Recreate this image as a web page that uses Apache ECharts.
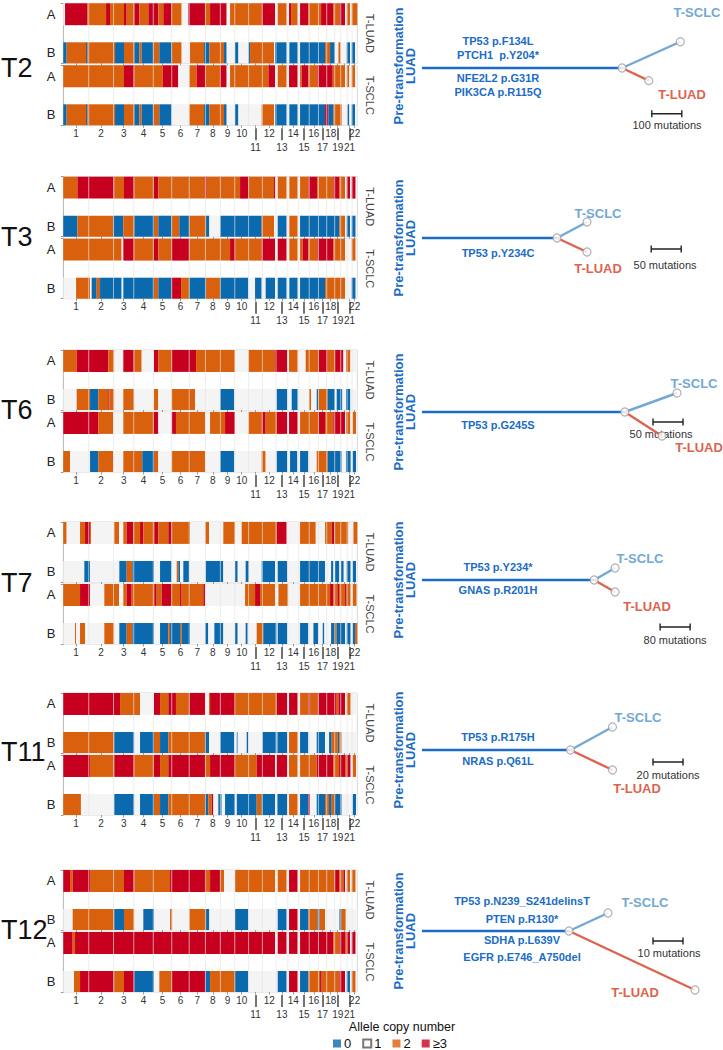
<!DOCTYPE html>
<html><head><meta charset="utf-8">
<script src="https://cdn.jsdelivr.net/npm/echarts@6/dist/echarts.min.js"></script>
<style>html,body{margin:0;padding:0;background:#fff}#c{width:723px;height:1050px}</style>
</head><body><div id="c"></div>
<script>
// ---------------- DATA ----------------
const CHROM_NAMES = ['1','2','3','4','5','6','7','8','9','10','11','12','13','14','15','16','17','18','19','20','21','22'];
const CHROM_LEN_MB = [249.25,243.2,198.0,191.15,180.9,171.1,159.1,146.4,141.2,135.5,135.0,133.85,115.2,107.35,102.5,90.35,81.2,78.1,59.1,63.0,48.1,51.3];
const UPPER_LABEL_CHROMS = ['1','2','3','4','5','6','7','8','9','10','12','14','16','18','20','22'];
const LOWER_LABEL_CHROMS = ['11','13','15','17','19','21'];
const TUMORS = ['T2','T3','T6','T7','T11','T12'];
const FACETS = ['T-LUAD','T-SCLC'];
const ALLELES = ['A','B'];
const CN_STATES = ['0','1','2','≥3'];

// copy-number segments, run-length encoded: [segment end (Mb, genome-wide), state]  state: 0,1,2,3(>=3)
const T2_LUAD_A = [[17,1],[236,3],[419,2],[458,3],[595,2],[621,3],[696,2],[745,3],[834,2],[931,3],[980,2],[1062,3],[1160,2],[1225,1],[1389,3],[1438,2],[1601,3],[1634,1],[1944,2],[2075,3],[2101,1],[2189,2],[2212,1],[2232,3],[2297,2],[2320,1],[2402,3],[2526,2],[2647,3],[2706,2],[2761,3],[2777,1],[2810,2],[2826,1],[2881,2]];
const T2_LUAD_B = [[33,0],[223,2],[236,0],[507,2],[595,0],[696,2],[745,0],[768,2],[883,0],[941,2],[1062,0],[1160,2],[1242,1],[1379,2],[1431,0],[1575,2],[1601,0],[1683,1],[1716,0],[1814,1],[1830,0],[2065,2],[2075,1],[2189,0],[2215,1],[2297,0],[2320,1],[2565,0],[2614,2],[2663,0],[2696,1],[2719,2],[2777,1],[2810,0],[2826,1],[2859,0],[2881,1]];
const T2_SCLC_A = [[595,2],[696,3],[974,2],[1127,3],[1235,1],[1307,2],[1389,3],[1536,2],[1601,3],[1634,1],[2010,2],[2075,3],[2101,1],[2189,2],[2212,1],[2297,3],[2320,1],[2336,2],[2402,3],[2490,2],[2640,3],[2761,2],[2777,1],[2803,2],[2826,1],[2859,2],[2881,1]];
const T2_SCLC_B = [[33,0],[223,2],[236,0],[507,2],[595,0],[696,2],[745,0],[768,2],[883,0],[941,2],[1062,0],[1235,1],[1379,2],[1431,0],[1575,2],[1601,0],[1683,1],[1716,0],[1944,1],[2065,2],[2075,1],[2189,0],[2215,1],[2297,0],[2320,1],[2565,0],[2598,3],[2647,0],[2729,2],[2784,1],[2803,0],[2826,1],[2859,0],[2881,1]];

const T3_LUAD_A = [[138,2],[500,3],[595,2],[696,3],[889,2],[931,3],[1389,2],[1405,3],[1732,2],[1814,3],[2065,2],[2078,3],[2101,1],[2189,2],[2215,1],[2297,2],[2320,1],[2402,2],[2490,3],[2647,2],[2706,3],[2761,2],[2777,1],[2810,3],[2826,1],[2865,3],[2881,1]];
const T3_LUAD_B = [[138,0],[490,2],[588,0],[696,2],[889,0],[931,2],[1062,0],[1137,2],[1235,0],[1399,2],[1431,0],[1536,1],[1944,0],[2065,2],[2101,1],[2189,0],[2215,1],[2297,2],[2320,1],[2706,0],[2761,2],[2777,1],[2810,0],[2826,1],[2865,0],[2881,1]];
const T3_SCLC_A = [[572,2],[588,1],[696,3],[889,2],[931,3],[1062,2],[1235,3],[1634,2],[1683,3],[1944,2],[2075,3],[2101,1],[2189,3],[2215,1],[2297,2],[2320,1],[2346,2],[2402,3],[2490,2],[2647,3],[2761,2],[2826,1],[2865,2],[2881,1]];
const T3_SCLC_B = [[125,1],[262,2],[278,1],[327,0],[360,2],[572,0],[588,1],[889,0],[931,2],[1062,0],[1154,3],[1235,2],[1399,0],[1536,2],[1814,0],[1879,1],[1944,0],[1983,1],[2075,0],[2101,1],[2189,0],[2215,1],[2297,0],[2320,1],[2565,0],[2761,2],[2826,1],[2865,0],[2881,1]];

const T6_LUAD_A = [[131,2],[441,3],[500,2],[588,1],[696,3],[768,2],[889,1],[931,3],[1062,2],[1301,3],[1683,2],[1814,1],[2075,2],[2196,3],[2212,1],[2297,2],[2375,1],[2500,2],[2591,3],[2663,2],[2745,3],[2771,1],[2813,2],[2881,1]];
const T6_LUAD_B = [[131,1],[262,2],[343,0],[441,2],[450,3],[500,2],[588,1],[696,2],[889,1],[931,2],[1062,1],[1291,2],[1536,1],[1676,0],[2091,1],[2196,0],[2238,1],[2297,0],[2408,1],[2428,2],[2483,1],[2500,0],[2591,2],[2663,0],[2679,1],[2735,0],[2771,1],[2813,0],[2881,1]];
const T6_SCLC_A = [[343,3],[490,2],[588,1],[889,2],[931,3],[1062,1],[1104,3],[1389,2],[1438,1],[1585,2],[1683,3],[1814,1],[1944,2],[1983,3],[2091,2],[2196,3],[2212,1],[2297,3],[2320,1],[2500,2],[2565,3],[2646,2],[2761,3],[2771,1],[2813,2],[2836,1],[2869,2],[2881,1]];
const T6_SCLC_B = [[66,2],[262,1],[343,0],[490,2],[588,1],[774,2],[889,0],[931,2],[1062,1],[1389,2],[1536,1],[1676,0],[1944,1],[1983,2],[2091,1],[2196,0],[2222,1],[2294,0],[2320,1],[2402,0],[2483,1],[2591,2],[2728,0],[2771,1],[2817,0],[2836,1],[2869,0],[2881,1]];

const T7_LUAD_A = [[33,2],[164,1],[213,2],[262,3],[272,2],[500,1],[546,2],[588,1],[621,2],[686,3],[752,2],[784,3],[892,2],[931,3],[1029,2],[1062,3],[1242,2],[1389,1],[1428,2],[1568,1],[1683,2],[1748,1],[2091,2],[2189,3],[2320,1],[2474,2],[2565,1],[2630,2],[2656,3],[2794,2],[2843,1],[2881,2]];
const T7_LUAD_B = [[206,1],[262,0],[549,1],[621,0],[676,2],[889,0],[948,1],[1062,0],[1111,1],[1127,2],[1144,0],[1176,1],[1235,0],[1395,1],[1568,0],[1683,1],[1709,0],[1787,1],[1820,0],[1944,1],[2075,0],[2101,1],[2196,0],[2320,1],[2565,0],[2624,1],[2647,0],[2663,1],[2705,0],[2722,1],[2748,0],[2777,1],[2816,0],[2836,1],[2869,0],[2881,1]];
const T7_SCLC_A = [[164,2],[262,3],[402,1],[546,2],[588,1],[621,2],[670,3],[892,2],[915,3],[964,2],[1062,3],[1144,2],[1160,3],[1372,2],[1389,3],[1781,1],[1879,2],[1928,3],[2075,2],[2108,1],[2205,2],[2320,1],[2614,2],[2647,3],[2686,2],[2702,3],[2761,2],[2777,3],[2816,2],[2836,1],[2875,2],[2881,1]];
const T7_SCLC_B = [[115,1],[125,2],[164,1],[213,2],[402,1],[500,2],[549,1],[621,0],[676,2],[889,0],[948,1],[1029,0],[1046,2],[1144,0],[1160,2],[1242,0],[1389,1],[1421,0],[1480,1],[1568,0],[1683,1],[1709,0],[1787,1],[1807,0],[1895,1],[1960,2],[2091,0],[2101,1],[2196,0],[2320,1],[2402,0],[2451,1],[2500,0],[2542,1],[2558,0],[2624,1],[2663,0],[2679,2],[2761,0],[2777,1],[2816,0],[2836,1],[2859,0],[2881,2]];

const T11_LUAD_A = [[556,3],[752,2],[889,1],[948,3],[1029,2],[1104,3],[1235,2],[1389,3],[1428,1],[1438,2],[1683,3],[2091,2],[2196,3],[2212,1],[2297,3],[2320,1],[2402,2],[2418,3],[2493,2],[2679,3],[2696,2],[2761,3],[2777,1],[2816,2],[2881,1]];
const T11_LUAD_B = [[500,2],[696,0],[752,1],[889,0],[948,2],[1029,0],[1389,2],[1428,0],[1536,1],[1676,0],[1700,1],[1709,0],[1797,1],[1814,0],[1951,1],[2091,0],[2098,1],[2196,0],[2212,1],[2297,2],[2320,1],[2402,0],[2483,1],[2565,0],[2604,1],[2630,0],[2689,2],[2705,0],[2728,2],[2881,1]];
const T11_SCLC_A = [[262,3],[500,2],[696,3],[889,2],[948,3],[1029,2],[1389,3],[1438,2],[1683,3],[1895,2],[2075,3],[2091,1],[2196,3],[2212,1],[2297,2],[2320,1],[2483,2],[2647,3],[2702,2],[2761,3],[2777,2],[2816,3],[2836,1],[2869,2],[2881,1]];
const T11_SCLC_B = [[173,2],[500,1],[696,0],[752,1],[889,0],[948,2],[1029,0],[1389,2],[1421,0],[1454,2],[1470,3],[1519,1],[1552,0],[1585,1],[1683,0],[1700,1],[1895,0],[1944,2],[2075,0],[2098,1],[2196,0],[2212,1],[2297,2],[2320,1],[2402,0],[2418,3],[2483,1],[2565,0],[2604,2],[2630,0],[2663,2],[2728,0],[2836,1],[2869,0],[2881,1]];

const T12_LUAD_A = [[66,3],[92,2],[262,3],[595,2],[696,3],[1046,2],[1399,3],[1438,2],[1536,3],[1575,2],[1683,1],[2075,2],[2101,1],[2189,2],[2212,1],[2297,3],[2320,1],[2663,2],[2706,3],[2745,2],[2761,3],[2777,1],[2810,2],[2826,1],[2865,2],[2881,1]];
const T12_LUAD_B = [[92,1],[500,2],[595,0],[696,2],[784,1],[889,0],[1046,1],[1069,2],[1235,1],[1399,2],[1431,0],[1683,1],[1814,0],[2101,1],[2189,0],[2212,1],[2297,3],[2320,1],[2402,0],[2490,2],[2510,0],[2565,2],[2706,1],[2722,0],[2768,2],[2881,1]];
const T12_SCLC_A = [[92,3],[115,2],[2075,3],[2101,1],[2189,3],[2212,1],[2297,3],[2320,1],[2647,3],[2706,2],[2761,3],[2777,2],[2810,3],[2826,1],[2865,3],[2881,1]];
const T12_SCLC_B = [[105,1],[164,2],[500,3],[595,2],[696,3],[889,0],[941,1],[1062,2],[1389,3],[1438,0],[1683,2],[1814,0],[2101,1],[2189,0],[2212,1],[2297,3],[2320,1],[2402,0],[2516,2],[2532,3],[2706,2],[2761,3],[2777,1],[2810,0],[2826,1],[2865,2],[2881,1]];

const SEGMENTS = {
  T2:  {'T-LUAD':{A:T2_LUAD_A,B:T2_LUAD_B},  'T-SCLC':{A:T2_SCLC_A,B:T2_SCLC_B}},
  T3:  {'T-LUAD':{A:T3_LUAD_A,B:T3_LUAD_B},  'T-SCLC':{A:T3_SCLC_A,B:T3_SCLC_B}},
  T6:  {'T-LUAD':{A:T6_LUAD_A,B:T6_LUAD_B},  'T-SCLC':{A:T6_SCLC_A,B:T6_SCLC_B}},
  T7:  {'T-LUAD':{A:T7_LUAD_A,B:T7_LUAD_B},  'T-SCLC':{A:T7_SCLC_A,B:T7_SCLC_B}},
  T11: {'T-LUAD':{A:T11_LUAD_A,B:T11_LUAD_B},'T-SCLC':{A:T11_SCLC_A,B:T11_SCLC_B}},
  T12: {'T-LUAD':{A:T12_LUAD_A,B:T12_LUAD_B},'T-SCLC':{A:T12_SCLC_A,B:T12_SCLC_B}}
};

// phylogenetic trees: branch lengths in mutations; tips = [x (mutations from root), vertical offset]
const TRUNK_MUTATIONS = [667, 225, 338, 459, 99, 49];
const SCLC_TIPS = [[861,27],[275,16],[425,19],[515,12],[127,23],[62,18]];
const LUAD_TIPS = [[756,-13],[275,-14],[400,-24],[515,-12],[127,-20],[91,-59]];
const SCALE_BAR_MUTATIONS = [100, 50, 50, 80, 20, 10];
const MUTATIONS_ABOVE = [['TP53 p.F134L','PTCH1  p.Y204*'],[],[],['TP53 p.Y234*'],['TP53 p.R175H'],['TP53 p.N239_S241delinsT','PTEN p.R130*']];
const MUTATIONS_BELOW = [['NFE2L2 p.G31R','PIK3CA p.R115Q'],['TP53 p.Y234C'],['TP53 p.G245S'],['GNAS p.R201H'],['NRAS p.Q61L'],['SDHA p.L639V','EGFR p.E746_A750del']];

// ---------------- STYLE / LAYOUT ----------------
const CN_COLORS = ['#0b69ad', '#f4f4f4', '#d9600c', '#c8001f'];
const FONT = '"Liberation Sans", Arial, sans-serif';
const HM_LEFT = 63.3, HM_WIDTH = 294;
const PANEL_TOP = [3.3, 176.7, 350, 522, 693, 870];
const FACET_H = 60, FACET_STEP = 62;
const TRUNK_Y = [66, 238, 412, 580, 750, 931];
const SCALE_POS = [[766,-47],[382,-11],[385,-10],[635,-47],[154,-12],[77,-10]];
const TREE_LEFT = 422, TREE_W = 300;
const MUT_X = [498, 498, 498, 498, 498, 522];
const MUT_ABOVE_Y = [[-25,-11],[],[],[-13],[-13],[-30,-12]];
const MUT_BELOW_Y = [[12,26],[15],[13],[10],[11],[9,26]];
const SCLC_LABEL = [[697,12],[598,213],[694,383],[640,558],[638,717],[645,902]];
const LUAD_LABEL = [[682,94],[598,268],[699,447],[647,606],[637,788],[635,992]];
const SCALE_LABEL = [[667,125],[665,265],[661,434],[675,640],[668,775],[669,953]];
const PANEL_LABEL_Y = [68, 237, 410, 583, 752, 930];

const GENOME = CHROM_LEN_MB.reduce((a,b)=>a+b,0);
const chromStart = []; let acc = 0;
CHROM_LEN_MB.forEach(l => { chromStart.push(acc); acc += l; });
const chromMid = CHROM_LEN_MB.map((l,i)=>chromStart[i]+l/2);
const boundaries = chromStart.slice(1);
const midOf = name => chromMid[CHROM_NAMES.indexOf(name)];
const nameOfValue = v => { let best=0, bd=1e9; chromMid.forEach((m,i)=>{ if(Math.abs(m-v)<bd){bd=Math.abs(m-v);best=i;} }); return CHROM_NAMES[best]; };

function toSegments(rl, row) {
  const out = []; let s = 0;
  rl.forEach(([e, st]) => { const end = Math.min(e, GENOME); if (end > s) out.push([s, end, row, st]); s = end; });
  return out;
}

const grids = [], xAxes = [], yAxes = [], series = [], graphics = [];

TUMORS.forEach((t, p) => {
  FACETS.forEach((f, fi) => {
    const gi = grids.length;
    const top = PANEL_TOP[p] + fi * FACET_STEP;
    grids.push({left: HM_LEFT, top: top, width: HM_WIDTH, height: FACET_H, show: true, borderColor: '#d6d6d6', borderWidth: 1, backgroundColor: '#fff'});
    xAxes.push({
      gridIndex: gi, type: 'value', min: 0, max: GENOME, position: 'bottom',
      axisLine: {show: false}, splitLine: {show: false},
      axisTick: {show: true, customValues: chromMid, length: 2.5, lineStyle: {color: '#9a9a9a'}},
      axisLabel: fi === 1 ? {show: true, customValues: UPPER_LABEL_CHROMS.map(midOf), formatter: v => nameOfValue(v), fontSize: 10, color: '#333', margin: 3, fontFamily: FONT, hideOverlap: false, showMinLabel: true, showMaxLabel: true} : {show: false}
    });
    const xi = xAxes.length - 1;
    yAxes.push({
      gridIndex: gi, type: 'value', min: 0, max: 1,
      axisLine: {show: true, lineStyle: {color: '#bdbdbd'}}, splitLine: {show: false},
      axisTick: {show: true, customValues: [0, 1], length: 2.5, lineStyle: {color: '#9a9a9a'}},
      axisLabel: {show: true, customValues: [0.175, 0.8175], formatter: v => (v > 0.5 ? 'A' : 'B'), fontSize: 13, color: '#222', margin: 8, fontFamily: FONT}
    });
    const yi = yAxes.length - 1;
    const data = [].concat(toSegments(SEGMENTS[t][f].A, 1), toSegments(SEGMENTS[t][f].B, 0));
    series.push({
      type: 'custom', xAxisIndex: xi, yAxisIndex: yi, silent: true, z: 2,
      encode: {x: [0, 1], y: 2},
      data: data,
      renderItem: (params, api) => {
        const s = api.value(0), e = api.value(1), row = api.value(2), st = api.value(3);
        const yTop = row === 1 ? 1 : 0.35, yBot = row === 1 ? 0.635 : 0;
        const p0 = api.coord([s, yTop]), p1 = api.coord([e, yBot]);
        return {type: 'rect', shape: {x: p0[0], y: p0[1], width: p1[0] - p0[0], height: p1[1] - p0[1]}, style: {fill: CN_COLORS[st]}};
      }
    });
    series.push({
      type: 'custom', xAxisIndex: xi, yAxisIndex: yi, silent: true, z: 3,
      encode: {x: 0},
      data: boundaries.map(b => [b]),
      renderItem: (params, api) => {
        const a = api.coord([api.value(0), 1]), b = api.coord([api.value(0), 0]);
        return {type: 'line', shape: {x1: a[0], y1: a[1], x2: b[0], y2: b[1]}, style: {stroke: 'rgba(228,228,228,0.75)', lineWidth: 0.9}};
      }
    });
    if (fi === 1) {
      xAxes.push({
        gridIndex: gi, type: 'value', min: 0, max: GENOME, position: 'bottom', offset: 3,
        axisLine: {show: false}, splitLine: {show: false},
        axisTick: {show: true, customValues: LOWER_LABEL_CHROMS.map(midOf), length: 12, lineStyle: {color: '#444', width: 1.5}},
        axisLabel: {show: true, customValues: LOWER_LABEL_CHROMS.map(midOf), formatter: v => nameOfValue(v), fontSize: 10, color: '#333', margin: 14, fontFamily: FONT, hideOverlap: false}
      });
    }
    graphics.push({type: 'text', x: 370, y: top + FACET_H / 2, rotation: -Math.PI / 2,
      style: {text: f, fill: '#444', font: '11px ' + FONT, textAlign: 'center', textVerticalAlign: 'middle'}});
  });
  graphics.push({type: 'text', x: 1, y: PANEL_LABEL_Y[p], style: {text: t, fill: '#111', font: '27px ' + FONT, textAlign: 'left', textVerticalAlign: 'middle'}});
});

// trees
TUMORS.forEach((t, p) => {
  const gi = grids.length;
  const unit = SCALE_BAR_MUTATIONS[p];
  grids.push({left: TREE_LEFT, top: TRUNK_Y[p] - 70, width: TREE_W, height: 140, show: false});
  xAxes.push({gridIndex: gi, type: 'value', min: 0, max: unit * 10, show: false});
  const xi = xAxes.length - 1;
  yAxes.push({gridIndex: gi, type: 'value', min: -70, max: 70, show: false});
  const yi = yAxes.length - 1;
  const node = [TRUNK_MUTATIONS[p], 0];
  const common = {type: 'line', xAxisIndex: xi, yAxisIndex: yi, symbol: 'none', silent: true, animation: false};
  series.push(Object.assign({}, common, {data: [[0, 0], node], lineStyle: {color: '#1b6cc6', width: 2.6}, z: 4}));
  series.push(Object.assign({}, common, {data: [node, SCLC_TIPS[p]], lineStyle: {color: '#73a8d4', width: 2.4}, z: 4}));
  series.push(Object.assign({}, common, {data: [node, LUAD_TIPS[p]], lineStyle: {color: '#dd6450', width: 2.4}, z: 4}));
  series.push({type: 'scatter', xAxisIndex: xi, yAxisIndex: yi, silent: true, z: 6, symbol: 'circle', symbolSize: 8,
    itemStyle: {color: '#fff', borderColor: '#9c9c9c', borderWidth: 1.2}, data: [node, SCLC_TIPS[p], LUAD_TIPS[p]]});
  const sp = SCALE_POS[p];
  series.push(Object.assign({}, common, {data: [[sp[0], sp[1]], [sp[0] + unit, sp[1]]], symbol: 'rect', symbolSize: [1.4, 7],
    itemStyle: {color: '#222'}, lineStyle: {color: '#222', width: 1.5}, z: 4}));

  graphics.push({type: 'text', x: 398, y: TRUNK_Y[p], rotation: Math.PI / 2,
    style: {text: 'Pre-transformation', fill: '#1b6cc6', font: 'bold 13px ' + FONT, textAlign: 'center', textVerticalAlign: 'middle'}});
  graphics.push({type: 'text', x: 410, y: TRUNK_Y[p], rotation: Math.PI / 2,
    style: {text: 'LUAD', fill: '#1b6cc6', font: 'bold 13px ' + FONT, textAlign: 'center', textVerticalAlign: 'middle'}});
  MUTATIONS_ABOVE[p].forEach((m, k) => graphics.push({type: 'text', x: MUT_X[p], y: TRUNK_Y[p] + MUT_ABOVE_Y[p][k],
    style: {text: m, fill: '#1b6cc6', font: 'bold 11px ' + FONT, textAlign: 'center', textVerticalAlign: 'middle'}}));
  MUTATIONS_BELOW[p].forEach((m, k) => graphics.push({type: 'text', x: MUT_X[p], y: TRUNK_Y[p] + MUT_BELOW_Y[p][k],
    style: {text: m, fill: '#1b6cc6', font: 'bold 11px ' + FONT, textAlign: 'center', textVerticalAlign: 'middle'}}));
  graphics.push({type: 'text', x: SCLC_LABEL[p][0], y: SCLC_LABEL[p][1],
    style: {text: 'T-SCLC', fill: '#73a8d4', font: 'bold 13px ' + FONT, textAlign: 'center', textVerticalAlign: 'middle'}});
  graphics.push({type: 'text', x: LUAD_LABEL[p][0], y: LUAD_LABEL[p][1],
    style: {text: 'T-LUAD', fill: '#dd6450', font: 'bold 13px ' + FONT, textAlign: 'center', textVerticalAlign: 'middle'}});
  graphics.push({type: 'text', x: SCALE_LABEL[p][0], y: SCALE_LABEL[p][1],
    style: {text: unit + ' mutations', fill: '#333', font: '11px ' + FONT, textAlign: 'center', textVerticalAlign: 'middle'}});
});

// legend dummy series
CN_STATES.forEach((s, i) => series.push({name: s, type: 'scatter', xAxisIndex: 0, yAxisIndex: 0, data: [],
  itemStyle: {color: i === 1 ? '#ffffff' : CN_COLORS[i], borderColor: i === 1 ? '#555' : CN_COLORS[i], borderWidth: i === 1 ? 0.8 : 0}}));
graphics.push({type: 'text', x: 402, y: 1027, style: {text: 'Allele copy number', fill: '#111', font: '12.5px ' + FONT, textAlign: 'center', textVerticalAlign: 'middle'}});

const chart = echarts.init(document.getElementById('c'), null, {renderer: 'svg', width: 723, height: 1050});
chart.setOption({
  animation: false,
  backgroundColor: '#fff',
  textStyle: {fontFamily: FONT},
  grid: grids, xAxis: xAxes, yAxis: yAxes, series: series,
  legend: {data: CN_STATES, left: 333, top: 1037, padding: 0, icon: 'rect', itemWidth: 8, itemHeight: 8, itemGap: 11, selectedMode: false,
    textStyle: {fontSize: 13, color: '#111', fontFamily: FONT, padding: [0, 0, 0, -2]}},
  graphic: graphics
});
</script></body></html>
